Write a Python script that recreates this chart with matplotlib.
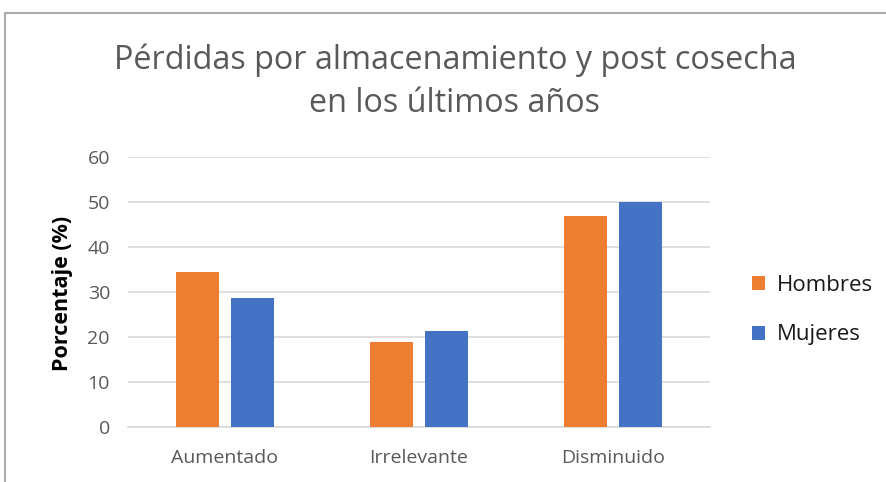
import matplotlib
matplotlib.use("Agg")
import matplotlib.pyplot as plt
import numpy as np
from matplotlib.patches import Rectangle

categories = ["Aumentado", "Irrelevante", "Disminuido"]
hombres = [34.4, 18.8, 46.9]
mujeres = [28.6, 21.4, 50.0]
series_names = ["Hombres", "Mujeres"]
colors = ["#ED7D31", "#4472C4"]
yticks = [0, 10, 20, 30, 40, 50, 60]

plt.rcParams["font.family"] = ["Open Sans", "DejaVu Sans"]

W, H = 887, 482
fig = plt.figure(figsize=(W / 100, H / 100), dpi=100)

# outer chart frame
fig.patches.append(Rectangle((5 / W, -0.1), 1.2, 1 - 13 / H + 0.1,
                             transform=fig.transFigure, fill=False,
                             edgecolor="#9a9a9a", linewidth=1.2))

ax = fig.add_axes([128 / W, 1 - 427 / H, (710 - 128) / W, (427 - 157) / H])

x = np.arange(len(categories))
bw = 0.222
off = 0.142
ax.bar(x - off, hombres, bw, color=colors[0], label=series_names[0], zorder=3)
ax.bar(x + off, mujeres, bw, color=colors[1], label=series_names[1], zorder=3)

ax.set_xlim(-0.5, len(categories) - 0.5)
ax.set_ylim(0, 60)
ax.set_yticks(yticks)
ax.set_yticklabels([str(t) for t in yticks], fontsize=14, color="#595959")
ax.set_xticks(x)
ax.set_xticklabels(categories, fontsize=14, color="#595959")
ax.tick_params(axis="y", length=0, pad=13)
ax.tick_params(axis="x", length=0, pad=16)
ax.grid(axis="y", color="#d9d9d9", linewidth=1.2, zorder=0)
for s in ["top", "right", "left"]:
    ax.spines[s].set_visible(False)
ax.spines["bottom"].set_color("#d9d9d9")
ax.spines["bottom"].set_linewidth(1.2)

ax.set_ylabel("Porcentaje (%)", fontsize=15.5, fontweight="bold", color="black")
ax.yaxis.set_label_coords((73 - 128) / (710 - 128), (427 - 293) / (427 - 157))

fig.text(455 / W, 1 - 60 / H, "Pérdidas por almacenamiento y post cosecha",
         ha="center", va="center", fontsize=23.3, color="#595959")
fig.text(455 / W, 1 - 104 / H, "en los últimos años",
         ha="center", va="center", fontsize=23.3, color="#595959")

leg = fig.legend(loc="center left", bbox_to_anchor=(732 / W, 1 - 310 / H),
                 frameon=False, fontsize=16, handlelength=0.6, handleheight=0.6,
                 labelspacing=1.3, handletextpad=0.5)
for t in leg.get_texts():
    t.set_color("#1a1a1a")

fig.savefig("out.png", dpi=100)
